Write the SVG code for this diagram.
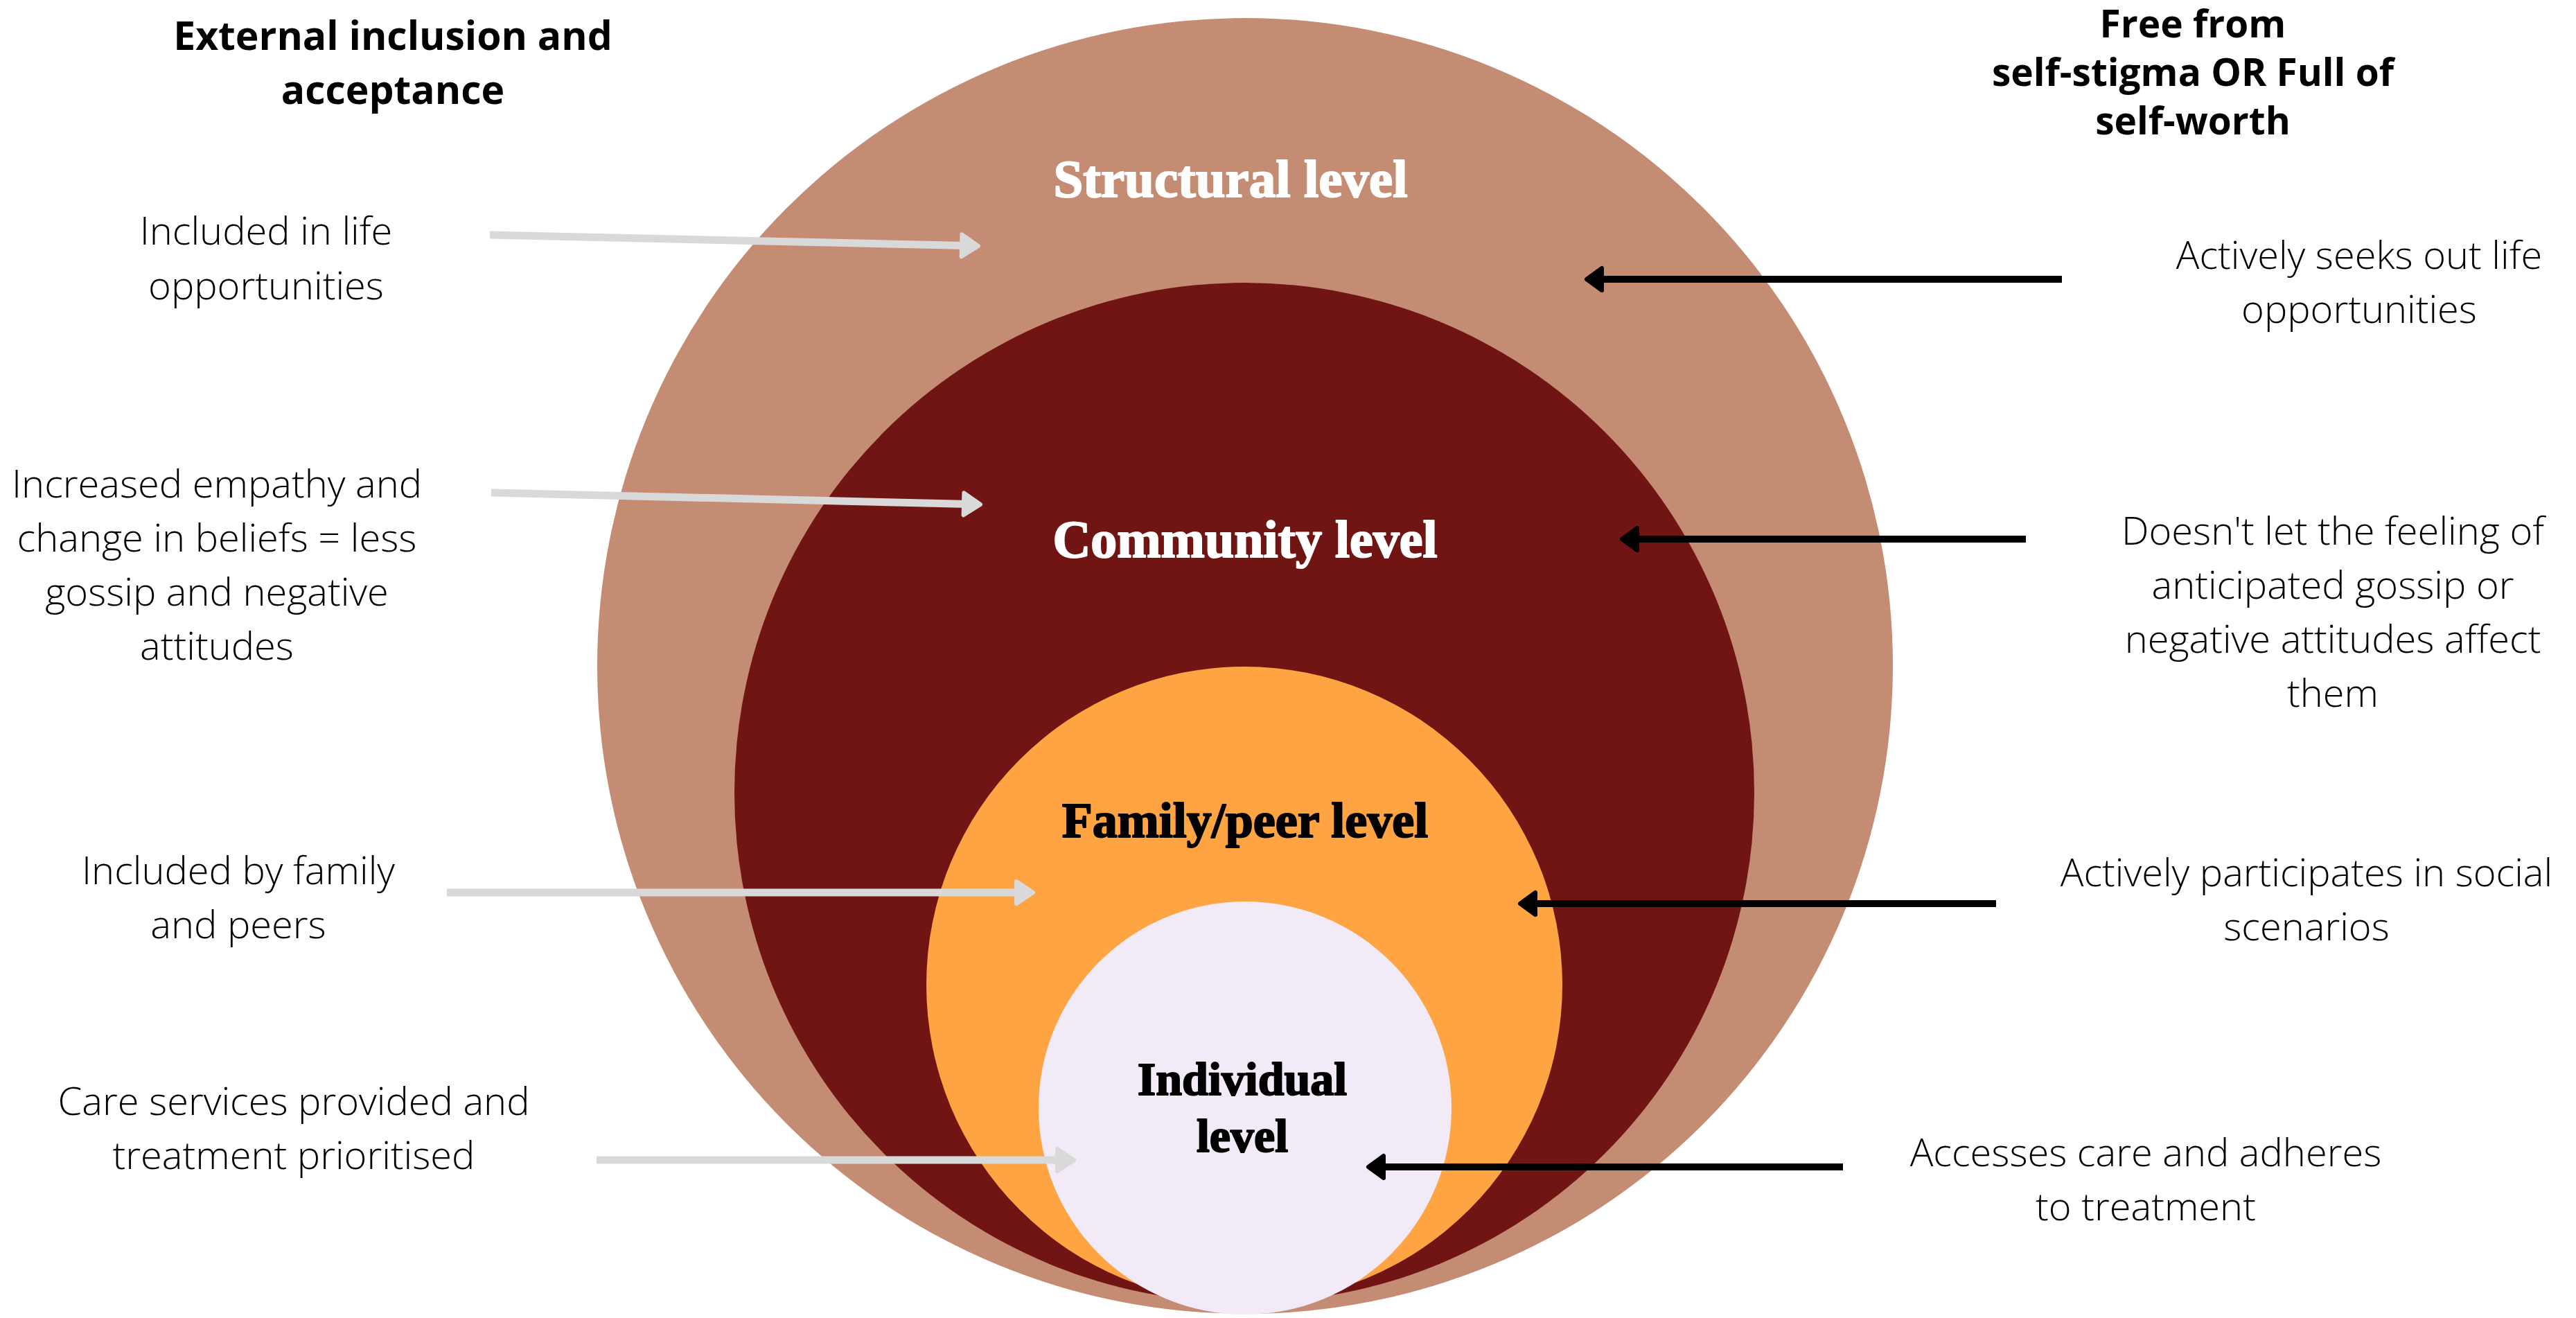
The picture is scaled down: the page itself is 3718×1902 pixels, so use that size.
<svg xmlns="http://www.w3.org/2000/svg" width="3718" height="1902" viewBox="0 0 3718 1902">
<style>
.title{font-family:"Open Sans","Liberation Sans",sans-serif;font-weight:700;font-size:56px;fill:#000;text-anchor:middle}
.body{font-family:"Open Sans","Liberation Sans",sans-serif;font-weight:300;font-size:56px;fill:#000;text-anchor:middle}
.lvl{font-family:"Liberation Serif","DejaVu Serif",serif;font-weight:700;font-size:70px;text-anchor:middle;stroke-width:2;stroke-linejoin:round}
.w{fill:#fff;stroke:#fff}
.k{fill:#000;stroke:#000}
.ga{stroke:#d9d9d9;stroke-width:11;fill:none;marker-end:url(#hg)}
.ba{stroke:#000;stroke-width:10;fill:none;marker-end:url(#hb)}
</style>
<defs>
<marker id="hg" viewBox="-5 -25 40 50" markerWidth="40" markerHeight="50" markerUnits="userSpaceOnUse" refX="10" refY="0" orient="auto">
<path d="M3,-16 L27,0 L3,16 Z" fill="#d9d9d9" stroke="#d9d9d9" stroke-width="6" stroke-linejoin="round"/>
</marker>
<marker id="hb" viewBox="-5 -25 40 50" markerWidth="40" markerHeight="50" markerUnits="userSpaceOnUse" refX="10" refY="0" orient="auto">
<path d="M3,-16 L25,0 L3,16 Z" fill="#000" stroke="#000" stroke-width="6" stroke-linejoin="round"/>
</marker>
</defs>
<rect width="3718" height="1902" fill="#fff"/>
<g id="structural">
<circle cx="1797" cy="961" r="935" fill="#c48c73"/>
<text class="lvl w" x="1776" y="284" style="font-size:77px">Structural level</text>
</g>
<g id="community">
<circle cx="1796" cy="1144" r="736" fill="#701513"/>
<text class="lvl w" x="1797" y="804" style="font-size:76px">Community level</text>
</g>
<g id="family">
<circle cx="1796" cy="1421" r="459" fill="#fea443"/>
<text class="lvl k" x="1797" y="1208" style="font-size:72px">Family/peer level</text>
</g>
<g id="individual">
<circle cx="1797" cy="1599" r="298" fill="#f2eaf7"/>
<text class="lvl k" x="1793" y="1580" style="font-size:68px">Individual</text>
<text class="lvl k" x="1793" y="1662" style="font-size:68px">level</text>
</g>
<g id="title-left">
<text class="title" x="567" y="72" style="font-size:57px">External inclusion and</text>
<text class="title" x="567" y="150" style="font-size:57px">acceptance</text>
</g>
<g id="title-right">
<text class="title" x="3165" y="54" style="font-size:55px">Free from</text>
<text class="title" x="3165" y="124" style="font-size:55px">self-stigma OR Full of</text>
<text class="title" x="3165" y="194" style="font-size:55px">self-worth</text>
</g>
<g id="ext-structural">
<text class="body" x="384" y="353">Included in life</text>
<text class="body" x="384" y="432">opportunities</text>
</g>
<g id="ext-community">
<text class="body" x="313" y="718">Increased empathy and</text>
<text class="body" x="313" y="796">change in beliefs = less</text>
<text class="body" x="313" y="874">gossip and negative</text>
<text class="body" x="313" y="952">attitudes</text>
</g>
<g id="ext-family">
<text class="body" x="344" y="1276">Included by family</text>
<text class="body" x="344" y="1354">and peers</text>
</g>
<g id="ext-individual">
<text class="body" x="424" y="1609">Care services provided and</text>
<text class="body" x="424" y="1687">treatment prioritised</text>
</g>
<g id="self-structural">
<text class="body" x="3405" y="388">Actively seeks out life</text>
<text class="body" x="3405" y="466">opportunities</text>
</g>
<g id="self-community">
<text class="body" x="3367" y="786">Doesn't let the feeling of</text>
<text class="body" x="3367" y="864">anticipated gossip or</text>
<text class="body" x="3367" y="942">negative attitudes affect</text>
<text class="body" x="3367" y="1020">them</text>
</g>
<g id="self-family">
<text class="body" x="3329" y="1279">Actively participates in social</text>
<text class="body" x="3329" y="1357">scenarios</text>
</g>
<g id="self-individual">
<text class="body" x="3097" y="1683">Accesses care and adheres</text>
<text class="body" x="3097" y="1761">to treatment</text>
</g>
<g id="connectors">
<line class="ga" x1="707" y1="339" x2="1395" y2="354.5"/>
<line class="ga" x1="709" y1="711" x2="1398" y2="727.5"/>
<line class="ga" x1="645" y1="1288" x2="1474" y2="1288"/>
<line class="ga" x1="861" y1="1674" x2="1533" y2="1674"/>
<line class="ba" x1="2976" y1="403" x2="2305" y2="403"/>
<line class="ba" x1="2924" y1="778" x2="2356" y2="778"/>
<line class="ba" x1="2881" y1="1304" x2="2209" y2="1304"/>
<line class="ba" x1="2660" y1="1684" x2="1990" y2="1684"/>
</g>
</svg>
